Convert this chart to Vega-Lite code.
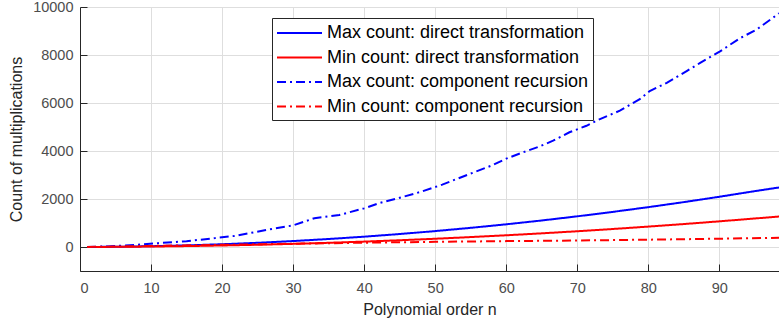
{
  "$schema": "https://vega.github.io/schema/vega-lite/v6.json",
  "autosize": {"type": "none"},
  "padding": {"left": 80, "top": 7, "right": 0, "bottom": 56},
  "width": 699,
  "height": 264,
  "background": "white",
  "config": {
    "view": {"stroke": null},
    "font": "Liberation Sans",
    "axis": {
      "domainColor": "#262626",
      "domainWidth": 1,
      "gridColor": "#dedede",
      "gridWidth": 1,
      "tickColor": "#262626",
      "labelColor": "#4d4d4d",
      "labelFont": "Liberation Sans",
      "labelFontSize": 14.5,
      "titleFont": "Liberation Sans",
      "titleFontSize": 16,
      "titleFontWeight": "normal",
      "titleColor": "#262626"
    }
  },
  "data": {
    "values": [
      {"n": 1, "v": 1, "s": "Max count: direct transformation"},
      {"n": 5, "v": 10, "s": "Max count: direct transformation"},
      {"n": 10, "v": 33, "s": "Max count: direct transformation"},
      {"n": 15, "v": 68, "s": "Max count: direct transformation"},
      {"n": 20, "v": 115, "s": "Max count: direct transformation"},
      {"n": 25, "v": 175, "s": "Max count: direct transformation"},
      {"n": 30, "v": 248, "s": "Max count: direct transformation"},
      {"n": 35, "v": 333, "s": "Max count: direct transformation"},
      {"n": 40, "v": 430, "s": "Max count: direct transformation"},
      {"n": 45, "v": 540, "s": "Max count: direct transformation"},
      {"n": 50, "v": 663, "s": "Max count: direct transformation"},
      {"n": 55, "v": 798, "s": "Max count: direct transformation"},
      {"n": 60, "v": 945, "s": "Max count: direct transformation"},
      {"n": 65, "v": 1105, "s": "Max count: direct transformation"},
      {"n": 70, "v": 1278, "s": "Max count: direct transformation"},
      {"n": 75, "v": 1463, "s": "Max count: direct transformation"},
      {"n": 80, "v": 1660, "s": "Max count: direct transformation"},
      {"n": 85, "v": 1870, "s": "Max count: direct transformation"},
      {"n": 90, "v": 2093, "s": "Max count: direct transformation"},
      {"n": 95, "v": 2328, "s": "Max count: direct transformation"},
      {"n": 98.4, "v": 2480, "s": "Max count: direct transformation"},
      {"n": 1, "v": 1, "s": "Min count: direct transformation"},
      {"n": 5, "v": 6, "s": "Min count: direct transformation"},
      {"n": 10, "v": 19, "s": "Min count: direct transformation"},
      {"n": 15, "v": 38, "s": "Min count: direct transformation"},
      {"n": 20, "v": 63, "s": "Min count: direct transformation"},
      {"n": 25, "v": 94, "s": "Min count: direct transformation"},
      {"n": 30, "v": 131, "s": "Min count: direct transformation"},
      {"n": 35, "v": 175, "s": "Min count: direct transformation"},
      {"n": 40, "v": 225, "s": "Min count: direct transformation"},
      {"n": 45, "v": 281, "s": "Min count: direct transformation"},
      {"n": 50, "v": 344, "s": "Min count: direct transformation"},
      {"n": 55, "v": 413, "s": "Min count: direct transformation"},
      {"n": 60, "v": 488, "s": "Min count: direct transformation"},
      {"n": 65, "v": 569, "s": "Min count: direct transformation"},
      {"n": 70, "v": 656, "s": "Min count: direct transformation"},
      {"n": 75, "v": 750, "s": "Min count: direct transformation"},
      {"n": 80, "v": 850, "s": "Min count: direct transformation"},
      {"n": 85, "v": 956, "s": "Min count: direct transformation"},
      {"n": 90, "v": 1069, "s": "Min count: direct transformation"},
      {"n": 95, "v": 1188, "s": "Min count: direct transformation"},
      {"n": 98.4, "v": 1270, "s": "Min count: direct transformation"},
      {"n": 1, "v": 1, "s": "Max count: component recursion"},
      {"n": 4, "v": 25, "s": "Max count: component recursion"},
      {"n": 8, "v": 90, "s": "Max count: component recursion"},
      {"n": 11, "v": 160, "s": "Max count: component recursion"},
      {"n": 15, "v": 240, "s": "Max count: component recursion"},
      {"n": 19, "v": 370, "s": "Max count: component recursion"},
      {"n": 22, "v": 470, "s": "Max count: component recursion"},
      {"n": 26, "v": 700, "s": "Max count: component recursion"},
      {"n": 30, "v": 900, "s": "Max count: component recursion"},
      {"n": 33, "v": 1200, "s": "Max count: component recursion"},
      {"n": 36.5, "v": 1335, "s": "Max count: component recursion"},
      {"n": 40, "v": 1610, "s": "Max count: component recursion"},
      {"n": 42, "v": 1818, "s": "Max count: component recursion"},
      {"n": 45, "v": 2050, "s": "Max count: component recursion"},
      {"n": 48, "v": 2300, "s": "Max count: component recursion"},
      {"n": 51, "v": 2600, "s": "Max count: component recursion"},
      {"n": 55, "v": 3060, "s": "Max count: component recursion"},
      {"n": 58, "v": 3400, "s": "Max count: component recursion"},
      {"n": 60, "v": 3680, "s": "Max count: component recursion"},
      {"n": 62.4, "v": 3950, "s": "Max count: component recursion"},
      {"n": 64.7, "v": 4190, "s": "Max count: component recursion"},
      {"n": 66.6, "v": 4430, "s": "Max count: component recursion"},
      {"n": 68.9, "v": 4780, "s": "Max count: component recursion"},
      {"n": 71.3, "v": 5050, "s": "Max count: component recursion"},
      {"n": 73.2, "v": 5330, "s": "Max count: component recursion"},
      {"n": 76, "v": 5680, "s": "Max count: component recursion"},
      {"n": 78.8, "v": 6160, "s": "Max count: component recursion"},
      {"n": 80.2, "v": 6500, "s": "Max count: component recursion"},
      {"n": 82.6, "v": 6840, "s": "Max count: component recursion"},
      {"n": 85.4, "v": 7330, "s": "Max count: component recursion"},
      {"n": 87.3, "v": 7670, "s": "Max count: component recursion"},
      {"n": 90.1, "v": 8150, "s": "Max count: component recursion"},
      {"n": 92.9, "v": 8700, "s": "Max count: component recursion"},
      {"n": 95.2, "v": 9050, "s": "Max count: component recursion"},
      {"n": 98.1, "v": 9670, "s": "Max count: component recursion"},
      {"n": 98.4, "v": 9740, "s": "Max count: component recursion"},
      {"n": 1, "v": 2, "s": "Min count: component recursion"},
      {"n": 10, "v": 45, "s": "Min count: component recursion"},
      {"n": 20, "v": 90, "s": "Min count: component recursion"},
      {"n": 30, "v": 135, "s": "Min count: component recursion"},
      {"n": 40, "v": 180, "s": "Min count: component recursion"},
      {"n": 50, "v": 215, "s": "Min count: component recursion"},
      {"n": 60, "v": 245, "s": "Min count: component recursion"},
      {"n": 70, "v": 270, "s": "Min count: component recursion"},
      {"n": 80, "v": 305, "s": "Min count: component recursion"},
      {"n": 90, "v": 345, "s": "Min count: component recursion"},
      {"n": 98.4, "v": 385, "s": "Min count: component recursion"}
    ]
  },
  "mark": {"type": "line", "strokeWidth": 2, "clip": true},
  "encoding": {
    "x": {
      "field": "n", "type": "quantitative",
      "scale": {"domain": [0, 98.4], "nice": false, "zero": false},
      "axis": {"title": "Polynomial order n", "values": [0,10,20,30,40,50,60,70,80,90], "format": "d", "tickSize": -7, "labelPadding": 17, "titlePadding": 7, "grid": true}
    },
    "y": {
      "field": "v", "type": "quantitative",
      "scale": {"domain": [-1000, 10000], "nice": false, "zero": false},
      "axis": {"title": "Count of multiplications", "values": [0,2000,4000,6000,8000,10000], "format": "d", "tickSize": -7, "labelPadding": 14, "titlePadding": 8, "grid": true}
    },
    "color": {
      "field": "s", "type": "nominal",
      "scale": {
        "domain": ["Max count: direct transformation", "Min count: direct transformation", "Max count: component recursion", "Min count: component recursion"],
        "range": ["#0000ff", "#ff0000", "#0000ff", "#ff0000"]
      },
      "legend": {
        "title": null, "orient": "none", "legendX": 192, "legendY": 11,
        "symbolType": "M-1,0H3.5", "symbolSize": 400, "symbolStrokeWidth": 2,
        "labelFontSize": 18, "labelFont": "Liberation Sans", "labelColor": "#000000", "labelLimit": 400,
        "rowPadding": 4.5, "strokeColor": "#262626", "fillColor": "white", "padding": 4, "labelOffset": 29
      }
    },
    "strokeDash": {
      "field": "s", "type": "nominal",
      "scale": {
        "domain": ["Max count: direct transformation", "Min count: direct transformation", "Max count: component recursion", "Min count: component recursion"],
        "range": [[1, 0], [1, 0], [9, 4, 2, 4], [9, 4, 2, 4]]
      },
      "legend": null
    }
  }
}
